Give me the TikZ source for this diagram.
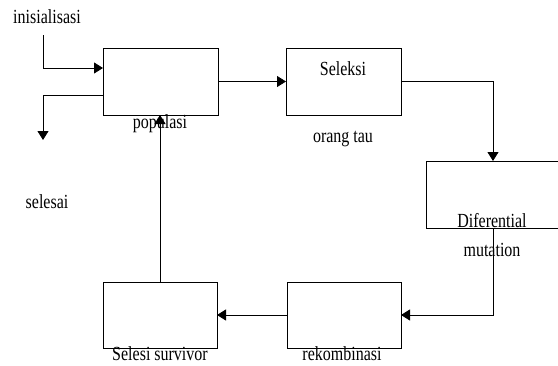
\documentclass[tikz,border=0pt]{standalone}
\usepackage{fontspec}
\setmainfont{Liberation Serif}[FakeStretch=0.8]
\usepackage{tikz}
\usetikzlibrary{arrows.meta}

\begin{document}
\begin{tikzpicture}[x=1pt, y=-1pt, font=\fontsize{20}{22}\selectfont,
  blok/.style={draw, line width=0.8pt, inner sep=0pt, outer sep=0pt,
    minimum width=115pt, minimum height=67pt},
  label/.style={anchor=base, inner sep=0pt},
  panah/.style={line width=0.8pt, -{Triangle[length=9pt, width=11pt]}},
  garis/.style={line width=0.8pt}]
  \useasboundingbox (0,0) rectangle (558,365);
  \clip (0,0) rectangle (558,365);
  \node[blok] (pop) at (160.5,81.5) {};
  \node[blok] (sel) at (343.5,81.5) {};
  \node[blok, minimum width=134pt] (dif) at (493,194.5) {};
  \node[blok, minimum width=114pt, minimum height=66pt] (rek) at (344,315) {};
  \node[blok, minimum width=114pt, minimum height=66pt] (sur) at (160,315) {};
  \node[label] (tinit) at (47,23) {inisialisasi};
  \node[label] (tselesai) at (47,208) {selesai};
  \node[label] (tpop) at (160,128) {populasi};
  \node[label] (tsel) at (343,75) {Seleksi};
  \node[label] (tortu) at (343,142) {orang tau};
  \node[label] (tdif) at (492,227) {Diferential};
  \node[label] (tmut) at (492,256) {mutation};
  \node[label] (tsur) at (160,360) {Selesi survivor};
  \node[label] (trek) at (342,360) {rekombinasi};
  \coordinate (mulai) at (43,35);
  \coordinate (akhir) at (43,140);
  \draw[panah] (mulai) |- ([yshift=13.5pt]pop.west);
  \draw[panah] ([yshift=-13.5pt]pop.west) -| (akhir);
  \draw[panah] (pop.east) -- (sel.west);
  \draw[panah] (sel.east) -| (dif.north);
  \draw[panah] (dif.south) |- (rek.east);
  \draw[panah] (rek.west) -- (sur.east);
  \draw[panah] (sur.north) -- (sur.north |- pop.south);
\end{tikzpicture}
\end{document}
